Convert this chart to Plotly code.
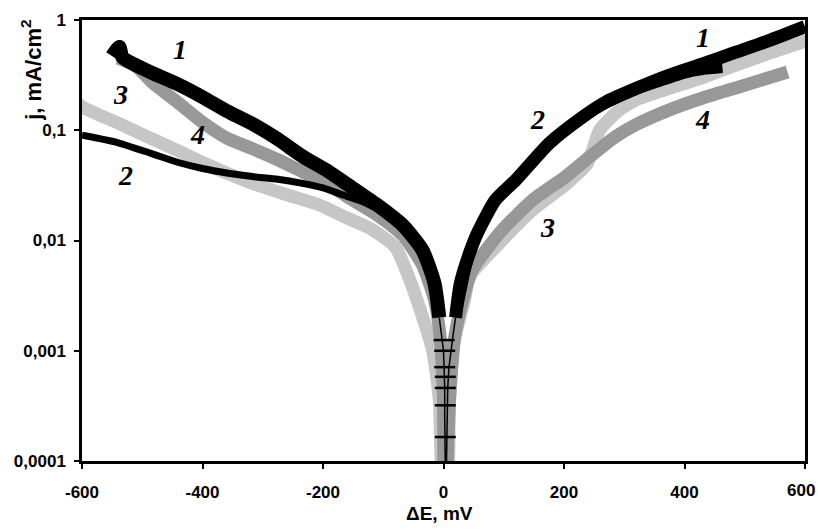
import math
import plotly.graph_objects as go

# ---- data (E in mV, j in mA/cm2) ----
c1_cat_E = [-550, -538, -533, -515, -483, -440, -400, -360, -317, -275, -234, -190, -151, -110, -68, -35, -15, -7]
c1_cat_j = [0.47, 0.57, 0.46, 0.40, 0.33, 0.26, 0.20, 0.15, 0.114, 0.083, 0.058, 0.042, 0.030, 0.021, 0.0138, 0.0082, 0.0041, 0.0020]
c1_an_E = [20, 28, 45, 56, 86, 120, 176, 231, 269, 320, 375, 430, 485, 540, 600]
c1_an_j = [0.0020, 0.0041, 0.0082, 0.0116, 0.0233, 0.0354, 0.0766, 0.132, 0.18, 0.240, 0.317, 0.40, 0.51, 0.65, 0.87]
c1_stem_E = [-7, -3, 0, 1, 2, 2, 3, 3, 4, 5, 6, 7, 9, 12, 16, 20]
c1_stem_j = [0.0020, 0.0014, 0.001, 0.0007, 0.00046, 0.00025, 0.0001, 0.00003, 0.00003, 0.0001, 0.00025, 0.00046, 0.0007, 0.001, 0.0014, 0.0020]
c1_dash_E = [1, 2, 2, 3, 3, 3, 3]
c1_dash_j = [0.00125, 0.001, 0.00071, 0.00058, 0.00046, 0.00032, 0.000165]

c2_cat_E = [-600, -540, -483, -440, -400, -360, -317, -275, -234, -200, -168, -130, -100, -68]
c2_cat_j = [0.090, 0.077, 0.061, 0.051, 0.045, 0.041, 0.038, 0.036, 0.033, 0.030, 0.026, 0.022, 0.018, 0.0135]
c2_an_E = [20, 45, 86, 120, 176, 231, 269, 320, 360, 400, 430, 463]
c2_an_j = [0.0020, 0.0082, 0.0233, 0.0354, 0.0766, 0.132, 0.175, 0.235, 0.28, 0.33, 0.355, 0.37]

c3_E = [-610, -596, -540, -483, -440, -400, -360, -317, -260, -206, -160, -123, -80, -56, -38, -18, -7, 0,
        5, 10, 18, 35, 43, 93, 148, 202, 239, 259, 292, 319, 375, 430, 485, 541, 596, 608]
c3_j = [0.18, 0.159, 0.116, 0.083, 0.065, 0.051, 0.041, 0.033, 0.026, 0.021, 0.016, 0.013, 0.0087, 0.0044, 0.0023, 0.001, 0.00036, 0.00005,
        0.00005, 0.00036, 0.00125, 0.0029, 0.0047, 0.0095, 0.019, 0.032, 0.050, 0.10, 0.153, 0.188, 0.24, 0.30, 0.39, 0.50, 0.63, 0.66]

c4_E = [-540, -510, -483, -440, -400, -360, -317, -275, -234, -190, -151, -110, -68, -35, -15, -5, 0, 2,
        3, 10, 18, 32, 48, 93, 148, 202, 242, 285, 319, 375, 430, 485, 571]
c4_j = [0.45, 0.38, 0.27, 0.177, 0.118, 0.085, 0.068, 0.054, 0.042, 0.032, 0.0233, 0.017, 0.0112, 0.006, 0.0029, 0.00125, 0.00036, 0.00005,
        0.00005, 0.00036, 0.00125, 0.0029, 0.0054, 0.0117, 0.0233, 0.0377, 0.057, 0.087, 0.112, 0.153, 0.196, 0.242, 0.337]

x_ticks = [-600, -400, -200, 0, 200, 400, 600]
x_ticktext = ["-600", "-400", "-200", "0", "200", "400", ""]   # last label placed separately (at the page edge)
x_last_label = "600"
y_ticks = [0.0001, 0.001, 0.01, 0.1, 1]
y_ticktext = ["0,0001", "0,001", "0,01", "0,1", "1"]

labels = [  # text, E, j
    ("1", -438, 0.535), ("1", 430, 0.70),
    ("2", -528, 0.039), ("2", 156, 0.124),
    ("3", -536, 0.209), ("3", 173, 0.013),
    ("4", -408, 0.0906), ("4", 430, 0.124),
]

BLACK = "#000000"
LIGHT = "#c6c6c6"
MID = "#989898"
TICKFONT = dict(family="Liberation Sans", size=17, color="black", weight="bold")

fig = go.Figure()

def add_line(x, y, color, width, shape="spline"):
    fig.add_trace(go.Scatter(x=x, y=y, mode="lines",
                             line=dict(color=color, width=width, shape=shape, smoothing=0.6),
                             showlegend=False, hoverinfo="skip"))

add_line(c3_E, c3_j, LIGHT, 13)
add_line(c4_E, c4_j, MID, 13)
add_line(c2_cat_E, c2_cat_j, BLACK, 7)
add_line(c2_an_E, c2_an_j, BLACK, 11)
add_line(c1_cat_E, c1_cat_j, BLACK, 14)
add_line(c1_an_E, c1_an_j, BLACK, 13)
add_line(c1_stem_E, c1_stem_j, BLACK, 1.5, "linear")
fig.add_trace(go.Scatter(x=c1_dash_E, y=c1_dash_j, mode="markers",
                         marker=dict(symbol="line-ew", size=15, line=dict(color=BLACK, width=2.5)),
                         showlegend=False, hoverinfo="skip"))

for t, e, j in labels:
    fig.add_annotation(x=e, y=math.log10(j), xref="x", yref="y", text=t, showarrow=False,
                       font=dict(family="Liberation Serif", size=28, color="black", weight="bold", style="italic"))

fig.add_annotation(xref="paper", yref="paper", x=1.0166, y=-0.068, text=x_last_label,
                   showarrow=False, xanchor="right", yanchor="middle", font=TICKFONT)

fig.add_annotation(xref="paper", yref="paper", x=-0.0705, y=0.885, text="j, mA/cm<sup>2</sup>",
                   textangle=-90, showarrow=False, xanchor="center", yanchor="middle",
                   font=dict(family="Liberation Sans", size=22, color="black", weight="bold"))
fig.add_annotation(xref="paper", yref="paper", x=0.495, y=-0.118, text="ΔE, mV",
                   showarrow=False, xanchor="center", yanchor="middle",
                   font=dict(family="Liberation Sans", size=19, color="black", weight="bold"))

fig.update_xaxes(range=[-600, 600], tickvals=x_ticks, ticktext=x_ticktext,
                 showgrid=False, zeroline=False, showline=True, linecolor="black", linewidth=2.5,
                 mirror=True, ticks="outside", ticklen=5, tickwidth=1.5, tickcolor="black",
                 ticklabelstandoff=9, tickfont=TICKFONT)
fig.update_yaxes(type="log", range=[-4, 0], tickvals=y_ticks, ticktext=y_ticktext,
                 showgrid=False, zeroline=False, showline=True, linecolor="black", linewidth=2.5,
                 mirror=True, ticks="outside", ticklen=5, tickwidth=1.5, tickcolor="black",
                 ticklabelstandoff=5, tickfont=TICKFONT)

fig.update_layout(width=818, height=530, margin=dict(l=82, r=13, t=20, b=69, autoexpand=False),
                  plot_bgcolor="white", paper_bgcolor="white")

# remove the default page margin so the 818x530 figure fills the window exactly
fig.write_html("out.html", config={"displayModeBar": False},
               post_script="document.body.style.margin='0';document.body.style.overflow='hidden';")
